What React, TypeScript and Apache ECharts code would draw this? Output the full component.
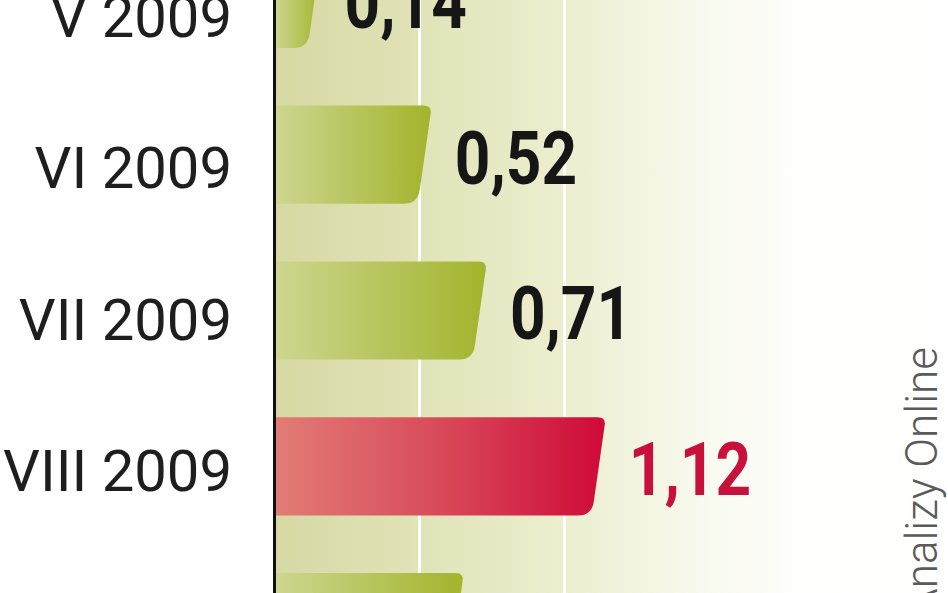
import React, { useEffect, useRef } from "react";
import * as echarts from "echarts";

const categories = ["V 2009", "VI 2009", "VII 2009", "VIII 2009", "IX 2009"];
const values = [0.14, 0.52, 0.71, 1.12, 0.63];
const valueLabels = ["0,14", "0,52", "0,71", "1,12", "0,63"];
const highlightIndex = 3;
const gridValues = [0.5, 1.0];
const sourceText = "Analizy Online";

const OFFSET = 80;

export default function App() {
  const ref = useRef<HTMLDivElement>(null);
  useEffect(() => {
    if (!ref.current) return;
    const chart = echarts.init(ref.current, null, { renderer: "svg" });
    const greenGrad = new echarts.graphic.LinearGradient(0, 0, 1, 0, [
      { offset: 0, color: "#ced690" },
      { offset: 1, color: "#a3b42c" },
    ]);
    const redGrad = new echarts.graphic.LinearGradient(0, 0, 1, 0, [
      { offset: 0, color: "#e27c76" },
      { offset: 0.5, color: "#d84a5a" },
      { offset: 1, color: "#cf0a38" },
    ]);
    const option: any = {
      animation: false,
      grid: [
        { left: 274, right: 0, top: 1, bottom: 0 },
        { left: 274, right: 0, top: OFFSET - 59.25, height: 757.5 },
      ],
      graphic: [
        {
          type: "rect",
          z: -10,
          silent: true,
          shape: { x: 274, y: 0, width: 674, height: 780 },
          style: {
            fill: new echarts.graphic.LinearGradient(0, 0, 1, 0, [
              { offset: 0, color: "#d6d9a3" },
              { offset: 0.217, color: "#e1e3b8" },
              { offset: 0.43, color: "#eceecf" },
              { offset: 0.63, color: "#f8f9ee" },
              { offset: 0.78, color: "#fefefb" },
              { offset: 1, color: "#ffffff" },
            ]),
          },
        },
        {
          type: "text",
          z: 20,
          x: 922,
          y: 347 + OFFSET,
          rotation: Math.PI / 2,
          style: {
            text: sourceText,
            fontFamily: "Roboto",
            fontWeight: 300,
            fontSize: 44,
            fill: "#5a5a5a",
            align: "right",
            verticalAlign: "middle",
          },
        },
      ],
      xAxis: [
        { type: "value", gridIndex: 0, min: 0, max: 2.324, show: false, splitLine: { show: false } },
        { type: "value", gridIndex: 1, min: 0, max: 2.324, show: false, splitLine: { show: false } },
      ],
      yAxis: [
        {
          type: "category",
          gridIndex: 0,
          inverse: true,
          data: categories,
          axisLine: { show: true, lineStyle: { color: "#111111", width: 3 } },
          axisTick: { show: false },
          axisLabel: { show: false },
          splitLine: { show: false },
          z: 12,
        },
        {
          type: "category",
          gridIndex: 1,
          inverse: true,
          data: categories,
          axisLine: { show: false },
          axisTick: { show: false },
          splitLine: { show: false },
          axisLabel: {
            fontFamily: "Roboto",
            fontSize: 58,
            color: "#1e1e1e",
            margin: 48,
          },
        },
      ],
      series: [
        {
          type: "custom",
          z: 5,
          clip: false,
          xAxisIndex: 0,
          yAxisIndex: 0,
          data: values.map((v, i) => [v, i]),
          encode: { x: 0, y: 1 },
          renderItem: (params: any, api: any) => {
            const v = api.value(0);
            const idx = api.value(1);
            const p0 = api.coord([0, idx]);
            const p1 = api.coord([v, idx]);
            const band = api.size([0, 1])[1];
            const h = band * 0.63;
            const yT = p0[1] - h / 2;
            const yB = p0[1] + h / 2;
            const xs = p0[0] + 1;
            const xt = p1[0] + 7;
            const xb = p1[0] - 7;
            const slope = (xt - xb) / h;
            const rt = 8;
            const rb = 14;
            const d =
              `M${xs},${yT} L${xt - rt},${yT} Q${xt},${yT} ${xt - slope * rt},${yT + rt} ` +
              `L${xb + slope * rb},${yB - rb} Q${xb},${yB} ${xb - rb},${yB} L${xs},${yB} Z`;
            const isHi = idx === highlightIndex;
            return {
              type: "group",
              children: [
                {
                  type: "path",
                  shape: { pathData: d },
                  style: { fill: isHi ? redGrad : greenGrad },
                },
                {
                  type: "text",
                  x: p1[0] + 30,
                  y: p0[1] + 4,
                  scaleX: 0.84,
                  style: {
                    text: valueLabels[idx],
                    fontFamily: "Roboto",
                    fontWeight: "bold",
                    fontSize: 74,
                    fill: isHi ? "#c8103c" : "#161616",
                    align: "left",
                    verticalAlign: "middle",
                  },
                },
              ],
            };
          },
        },
        {
          type: "line",
          xAxisIndex: 0,
          yAxisIndex: 0,
          data: [],
          z: 8,
          markLine: {
            silent: true,
            symbol: "none",
            label: { show: false },
            lineStyle: { color: "#ffffff", width: 3, type: "solid" },
            data: gridValues.map((g) => ({ xAxis: g })),
          },
        },
        {
          type: "bar",
          xAxisIndex: 1,
          yAxisIndex: 1,
          data: [],
        },
      ],
    };
    chart.setOption(option);
    return () => chart.dispose();
  }, []);
  return (
    <div
      ref={ref}
      style={{ width: 948, height: 780, position: "fixed", left: 0, top: -OFFSET, background: "#fff" }}
    />
  );
}
